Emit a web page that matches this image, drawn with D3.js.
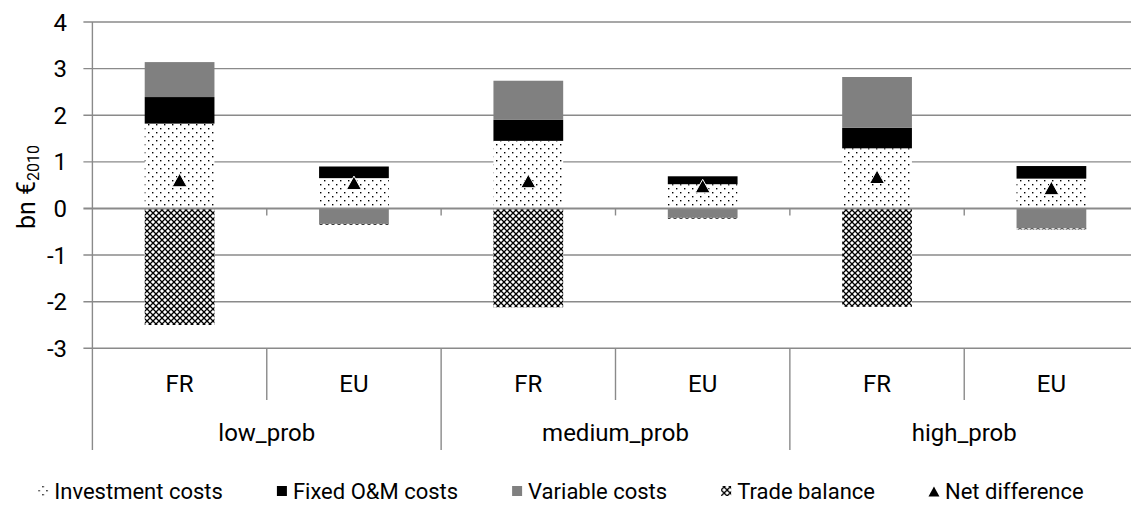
<!DOCTYPE html>
<html>
<head>
<meta charset="utf-8">
<script src="https://cdn.jsdelivr.net/npm/d3@7"></script>
<style>
  html, body { margin: 0; padding: 0; background: #fff; }
  svg { display: block; font-family: Roboto, "Liberation Sans", Arial, sans-serif; }
</style>
</head>
<body>
<svg id="chart" width="1131" height="505"></svg>
<script>
// Cost components per scenario and region (bn €2010)
const categories = ["FR", "EU", "FR", "EU", "FR", "EU"];
const groups = ["low_prob", "medium_prob", "high_prob"];
const seriesNames = ["Investment costs", "Fixed O&M costs", "Variable costs", "Trade balance"];
const investment = [1.82, 0.65, 1.45, 0.52, 1.29, 0.64];
const fixedOM    = [0.57, 0.25, 0.45, 0.17, 0.44, 0.27];
const variable   = [0.75, -0.33, 0.84, -0.20, 1.09, -0.43];
const trade      = [-2.50, -0.02, -2.12, -0.02, -2.11, -0.02];
const netDiff    = [0.61, 0.55, 0.59, 0.48, 0.68, 0.44];
const yTicks = [-3, -2, -1, 0, 1, 2, 3, 4];

const svg = d3.select("#chart");
const gridColor = "#8a8a8a";

// Fill patterns
const defs = svg.append("defs");
const pDots = defs.append("pattern").attr("id", "pat-invest")
  .attr("patternUnits", "userSpaceOnUse").attr("width", 8).attr("height", 8);
pDots.append("rect").attr("width", 8).attr("height", 8).attr("fill", "#fff");
pDots.append("rect").attr("x", 0).attr("y", 0).attr("width", 1.4).attr("height", 1.4).attr("fill", "#000");
pDots.append("rect").attr("x", 4).attr("y", 4).attr("width", 1.4).attr("height", 1.4).attr("fill", "#000");

const pHatch = defs.append("pattern").attr("id", "pat-trade")
  .attr("patternUnits", "userSpaceOnUse").attr("width", 6).attr("height", 6);
pHatch.append("rect").attr("width", 6).attr("height", 6).attr("fill", "#fff");
pHatch.append("path").attr("d", "M0,0L6,6M6,0L0,6").attr("stroke", "#000").attr("stroke-width", 1.3);

const fills = ["url(#pat-invest)", "#000", "#808080", "url(#pat-trade)"];

// Scales
const x = d3.scaleBand().domain(d3.range(categories.length))
  .range([92.4, 1138.6]).paddingInner(0.6).paddingOuter(0.3);
const y = d3.scaleLinear().domain([-3, 4]).range([348.3, 22]);
const x0 = x.range()[0];
const step = x.step();
const boundary = i => x0 + i * step;

// Horizontal gridlines with left tick marks
svg.append("g").selectAll("line").data(yTicks.filter(d => d !== 0)).join("line")
  .attr("x1", x0 - 9).attr("x2", 1131)
  .attr("y1", d => y(d)).attr("y2", d => y(d))
  .attr("stroke", gridColor).attr("stroke-width", 1.4);

// Y tick labels
svg.append("g").selectAll("text").data(yTicks).join("text")
  .attr("x", 67).attr("y", d => y(d)).attr("dy", "0.36em")
  .attr("text-anchor", "end").attr("font-size", 24).attr("fill", "#000")
  .text(d => d);

// Y axis title
const yTitle = svg.append("text")
  .attr("transform", `translate(35,${187}) rotate(-90)`)
  .attr("text-anchor", "middle").attr("font-size", 25).attr("fill", "#000");
yTitle.append("tspan").text("bn €");
yTitle.append("tspan").attr("font-size", 16).attr("dy", 4).text("2010");

// Stacked bars (positives up, negatives down)
const rows = categories.map((c, i) => ({
  i,
  "Investment costs": investment[i],
  "Fixed O&M costs": fixedOM[i],
  "Variable costs": variable[i],
  "Trade balance": trade[i]
}));
const stacked = d3.stack().keys(seriesNames).offset(d3.stackOffsetDiverging)(rows);

svg.append("g").selectAll("g").data(stacked).join("g")
  .attr("fill", (d, k) => fills[k])
  .selectAll("rect").data(d => d).join("rect")
  .attr("x", d => x(d.data.i))
  .attr("width", x.bandwidth())
  .attr("y", d => y(Math.max(d[0], d[1])))
  .attr("height", d => Math.abs(y(d[0]) - y(d[1])));

// Category axis at zero with boundary ticks
svg.append("line")
  .attr("x1", x0 - 9).attr("x2", 1131).attr("y1", y(0)).attr("y2", y(0))
  .attr("stroke", gridColor).attr("stroke-width", 2);
svg.append("g").selectAll("line").data(d3.range(1, categories.length + 1)).join("line")
  .attr("x1", d => boundary(d)).attr("x2", d => boundary(d))
  .attr("y1", y(0)).attr("y2", y(0) + 7)
  .attr("stroke", gridColor).attr("stroke-width", 1.4);

// Vertical value axis line, extended through the label area
svg.append("line")
  .attr("x1", x0).attr("x2", x0).attr("y1", y(4)).attr("y2", 450)
  .attr("stroke", gridColor).attr("stroke-width", 1.4);

// Label-area separators
svg.append("g").selectAll("line").data(d3.range(1, categories.length + 1)).join("line")
  .attr("x1", d => boundary(d)).attr("x2", d => boundary(d))
  .attr("y1", y(-3)).attr("y2", d => d % 2 === 0 ? 450 : 400)
  .attr("stroke", gridColor).attr("stroke-width", 1.4);

// Net difference markers
const tri = (w, h) => `M0,${-h / 2}L${w / 2},${h / 2}L${-w / 2},${h / 2}Z`;
svg.append("g").selectAll("path").data(netDiff).join("path")
  .attr("transform", (d, i) => `translate(${x(i) + x.bandwidth() / 2},${y(d)})`)
  .attr("d", tri(15, 13.5))
  .attr("fill", "#000").attr("stroke", "#fff").attr("stroke-width", 1);

// Category labels
svg.append("g").selectAll("text").data(categories).join("text")
  .attr("x", (d, i) => x(i) + x.bandwidth() / 2).attr("y", 391.7)
  .attr("text-anchor", "middle").attr("font-size", 24).attr("fill", "#000")
  .text(d => d);

// Group labels
svg.append("g").selectAll("text").data(groups).join("text")
  .attr("x", (d, i) => boundary(2 * i + 1)).attr("y", 441)
  .attr("text-anchor", "middle").attr("font-size", 24).attr("fill", "#000")
  .text(d => d);

// Legend
const legendItems = [
  { name: "Investment costs", type: "rect", fill: fills[0] },
  { name: "Fixed O&M costs", type: "rect", fill: fills[1] },
  { name: "Variable costs", type: "rect", fill: fills[2] },
  { name: "Trade balance", type: "rect", fill: fills[3] },
  { name: "Net difference", type: "tri", fill: "#000" }
];
const legendY = 490;
const legend = svg.append("g");
const items = legend.selectAll("g").data(legendItems).join("g");
items.each(function (d) {
  const g = d3.select(this);
  if (d.type === "rect") {
    g.append("rect").attr("x", 0).attr("y", -4).attr("width", 10).attr("height", 10).attr("fill", d.fill);
  } else {
    g.append("path").attr("transform", "translate(5,1.5)").attr("d", tri(11, 10)).attr("fill", d.fill);
  }
  g.append("text").attr("x", 16).attr("y", 9).attr("font-size", 22).attr("fill", "#000").text(d.name);
});
const legendGap = 54;
const widths = [];
items.each(function () {
  widths.push(16 + d3.select(this).select("text").node().getComputedTextLength());
});
const total = d3.sum(widths) + legendGap * (widths.length - 1);
let lx = 561 - total / 2;
items.attr("transform", (d, i) => {
  const t = `translate(${lx},${legendY})`;
  lx += widths[i] + legendGap;
  return t;
});
</script>
</body>
</html>
